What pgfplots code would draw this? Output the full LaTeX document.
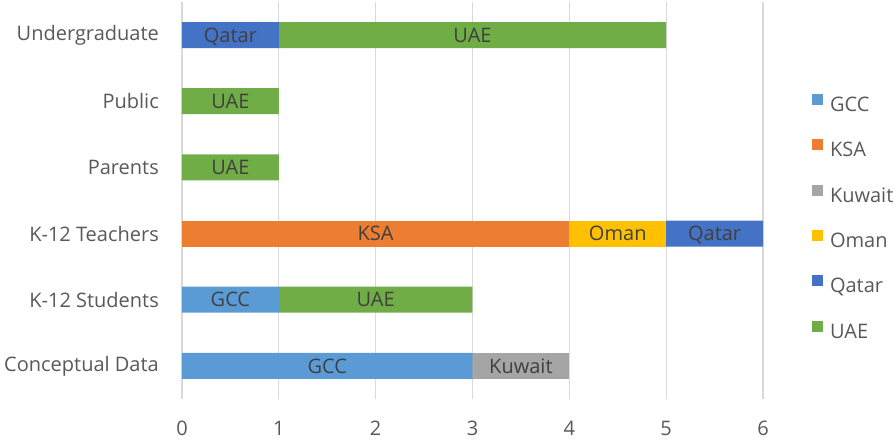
\documentclass[border=0pt]{standalone}
\usepackage{fontspec}
\setmainfont{Open Sans}
\usepackage{pgfplots}
\pgfplotsset{compat=1.18}

\definecolor{cGCC}{HTML}{5B9BD5}
\definecolor{cKSA}{HTML}{ED7D31}
\definecolor{cKuwait}{HTML}{A5A5A5}
\definecolor{cOman}{HTML}{FFC000}
\definecolor{cQatar}{HTML}{4472C4}
\definecolor{cUAE}{HTML}{70AD47}
\definecolor{gridc}{HTML}{D9D9D9}
\definecolor{labc}{HTML}{595959}
\definecolor{barc}{HTML}{404040}

\newcommand{\chartfont}{\fontsize{20}{23}\selectfont}

\begin{document}
\begin{tikzpicture}
\begin{axis}[
  xbar stacked,
  scale only axis,
  width=581pt, height=397pt,
  bar width=26pt,
  xmin=0, xmax=6, ymin=-0.5, ymax=5.5,
  xtick={0,...,6},
  ytick={0,...,5},
  yticklabels={Conceptual Data, K-12 Students, K-12 Teachers, Parents, Public, Undergraduate},
  axis line style={draw=none},
  major tick length=0pt,
  xmajorgrids,
  major grid style={draw=gridc, line width=1.3pt},
  tick label style={font=\chartfont, text=labc},
  yticklabel style={inner sep=0pt, xshift=-23pt},
  xticklabel style={inner sep=0pt, anchor=north, yshift=-22pt},
  /pgf/number format/assume math mode=true,
  legend cell align=left,
  legend style={draw=none, fill=none, at={(1.084,0.4546)}, anchor=west,
    inner sep=0pt, font=\chartfont, text=labc, row sep=23pt,
    nodes={inner sep=0pt, text height=14.5pt, text depth=5pt},
    /tikz/every odd column/.append style={column sep=7pt}},
  legend image code/.code={\fill[#1] (0pt,1.6pt) rectangle (11pt,12.6pt);},
  % stacked labels land mid-segment; rawx only hides the empty ones
  visualization depends on=rawx \as \rawx,
  every node near coord/.append style={font=\chartfont, text=barc, anchor=center,
    inner sep=0pt, text height=14.3pt, text depth=0pt},
  every axis plot/.append style={draw=none},
]
\addplot[fill=cGCC, nodes near coords={\ifdim\rawx pt>0pt GCC\fi}]
  coordinates {(3,0) (1,1) (0,2) (0,3) (0,4) (0,5)};
\addplot[fill=cKSA, nodes near coords={\ifdim\rawx pt>0pt KSA\fi}]
  coordinates {(0,0) (0,1) (4,2) (0,3) (0,4) (0,5)};
\addplot[fill=cKuwait, nodes near coords={\ifdim\rawx pt>0pt Kuwait\fi}]
  coordinates {(1,0) (0,1) (0,2) (0,3) (0,4) (0,5)};
\addplot[fill=cOman, nodes near coords={\ifdim\rawx pt>0pt Oman\fi}]
  coordinates {(0,0) (0,1) (1,2) (0,3) (0,4) (0,5)};
\addplot[fill=cQatar, nodes near coords={\ifdim\rawx pt>0pt Qatar\fi}]
  coordinates {(0,0) (0,1) (1,2) (0,3) (0,4) (1,5)};
\addplot[fill=cUAE, nodes near coords={\ifdim\rawx pt>0pt UAE\fi}]
  coordinates {(0,0) (2,1) (0,2) (1,3) (1,4) (4,5)};
\legend{GCC, KSA, Kuwait, Oman, Qatar, UAE}
\coordinate (SW) at (rel axis cs:0,0);
\coordinate (NE) at (rel axis cs:1,1);
\end{axis}
\useasboundingbox ([xshift=-182pt,yshift=-41pt]SW) rectangle ([xshift=133pt,yshift=2pt]NE);
\end{tikzpicture}
\end{document}
